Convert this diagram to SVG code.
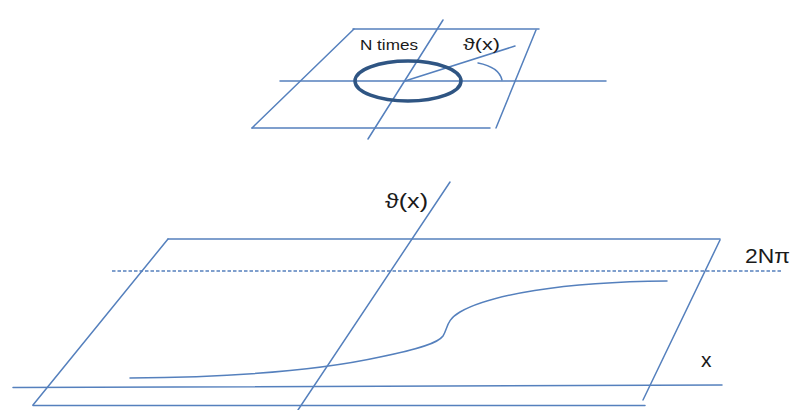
<svg xmlns="http://www.w3.org/2000/svg" width="792" height="410" viewBox="0 0 792 410">
<style>
.ln{stroke:#5580bd;stroke-width:1.5;fill:none;stroke-linecap:round}
.dash{stroke:#5580bd;stroke-width:1.5;fill:none;stroke-dasharray:3.5 2}
.ring{stroke:#2f5583;stroke-width:3.5;fill:none}
.t{font-family:"Liberation Sans","Open Sans",sans-serif;fill:#1a1a1a}
</style>
<rect width="792" height="410" fill="#ffffff"/>
<g id="small-plane">
<line class="ln" x1="353" y1="29" x2="539" y2="29"/>
<line class="ln" x1="354" y1="29" x2="252" y2="128"/>
<line class="ln" x1="252" y1="128" x2="490" y2="128"/>
<line class="ln" x1="536" y1="30" x2="496" y2="128"/>
<line class="ln" x1="280" y1="81" x2="606" y2="81"/>
<line class="ln" x1="443" y1="20" x2="368" y2="139"/>
<line class="ln" x1="405" y1="81" x2="515" y2="46"/>
<path class="ln" d="M478,63 Q499,67 502,80"/>
<ellipse class="ring" cx="408" cy="81" rx="53" ry="20"/>
<text class="t" x="360" y="50" font-size="15.5" textLength="58" lengthAdjust="spacingAndGlyphs">N times</text>
<text class="t" x="463" y="50" font-size="16" textLength="37" lengthAdjust="spacingAndGlyphs">ϑ(x)</text>
</g>
<g id="large-plane">
<line class="ln" x1="168" y1="239" x2="720" y2="239"/>
<line class="ln" x1="168" y1="239" x2="33" y2="405"/>
<line class="ln" x1="33" y1="405.5" x2="645" y2="405.5"/>
<line class="ln" x1="720" y1="240" x2="643" y2="400"/>
<line class="ln" x1="13" y1="387.5" x2="722" y2="385"/>
<line class="ln" x1="450" y1="182" x2="298" y2="410"/>
<line class="dash" x1="112" y1="271" x2="783" y2="271"/>
<path class="ln" d="M130,378 C250,377 330,368 380,357 C420,349 438,343 443,336 C448,328 446,320 460,312 C490,295 560,282 667,281"/>
<text class="t" x="385" y="208" font-size="21" textLength="43" lengthAdjust="spacingAndGlyphs">ϑ(x)</text>
<text class="t" x="745" y="263" font-size="21" textLength="45" lengthAdjust="spacingAndGlyphs">2Nπ</text>
<text class="t" x="701" y="367" font-size="21">x</text>
</g>
</svg>
